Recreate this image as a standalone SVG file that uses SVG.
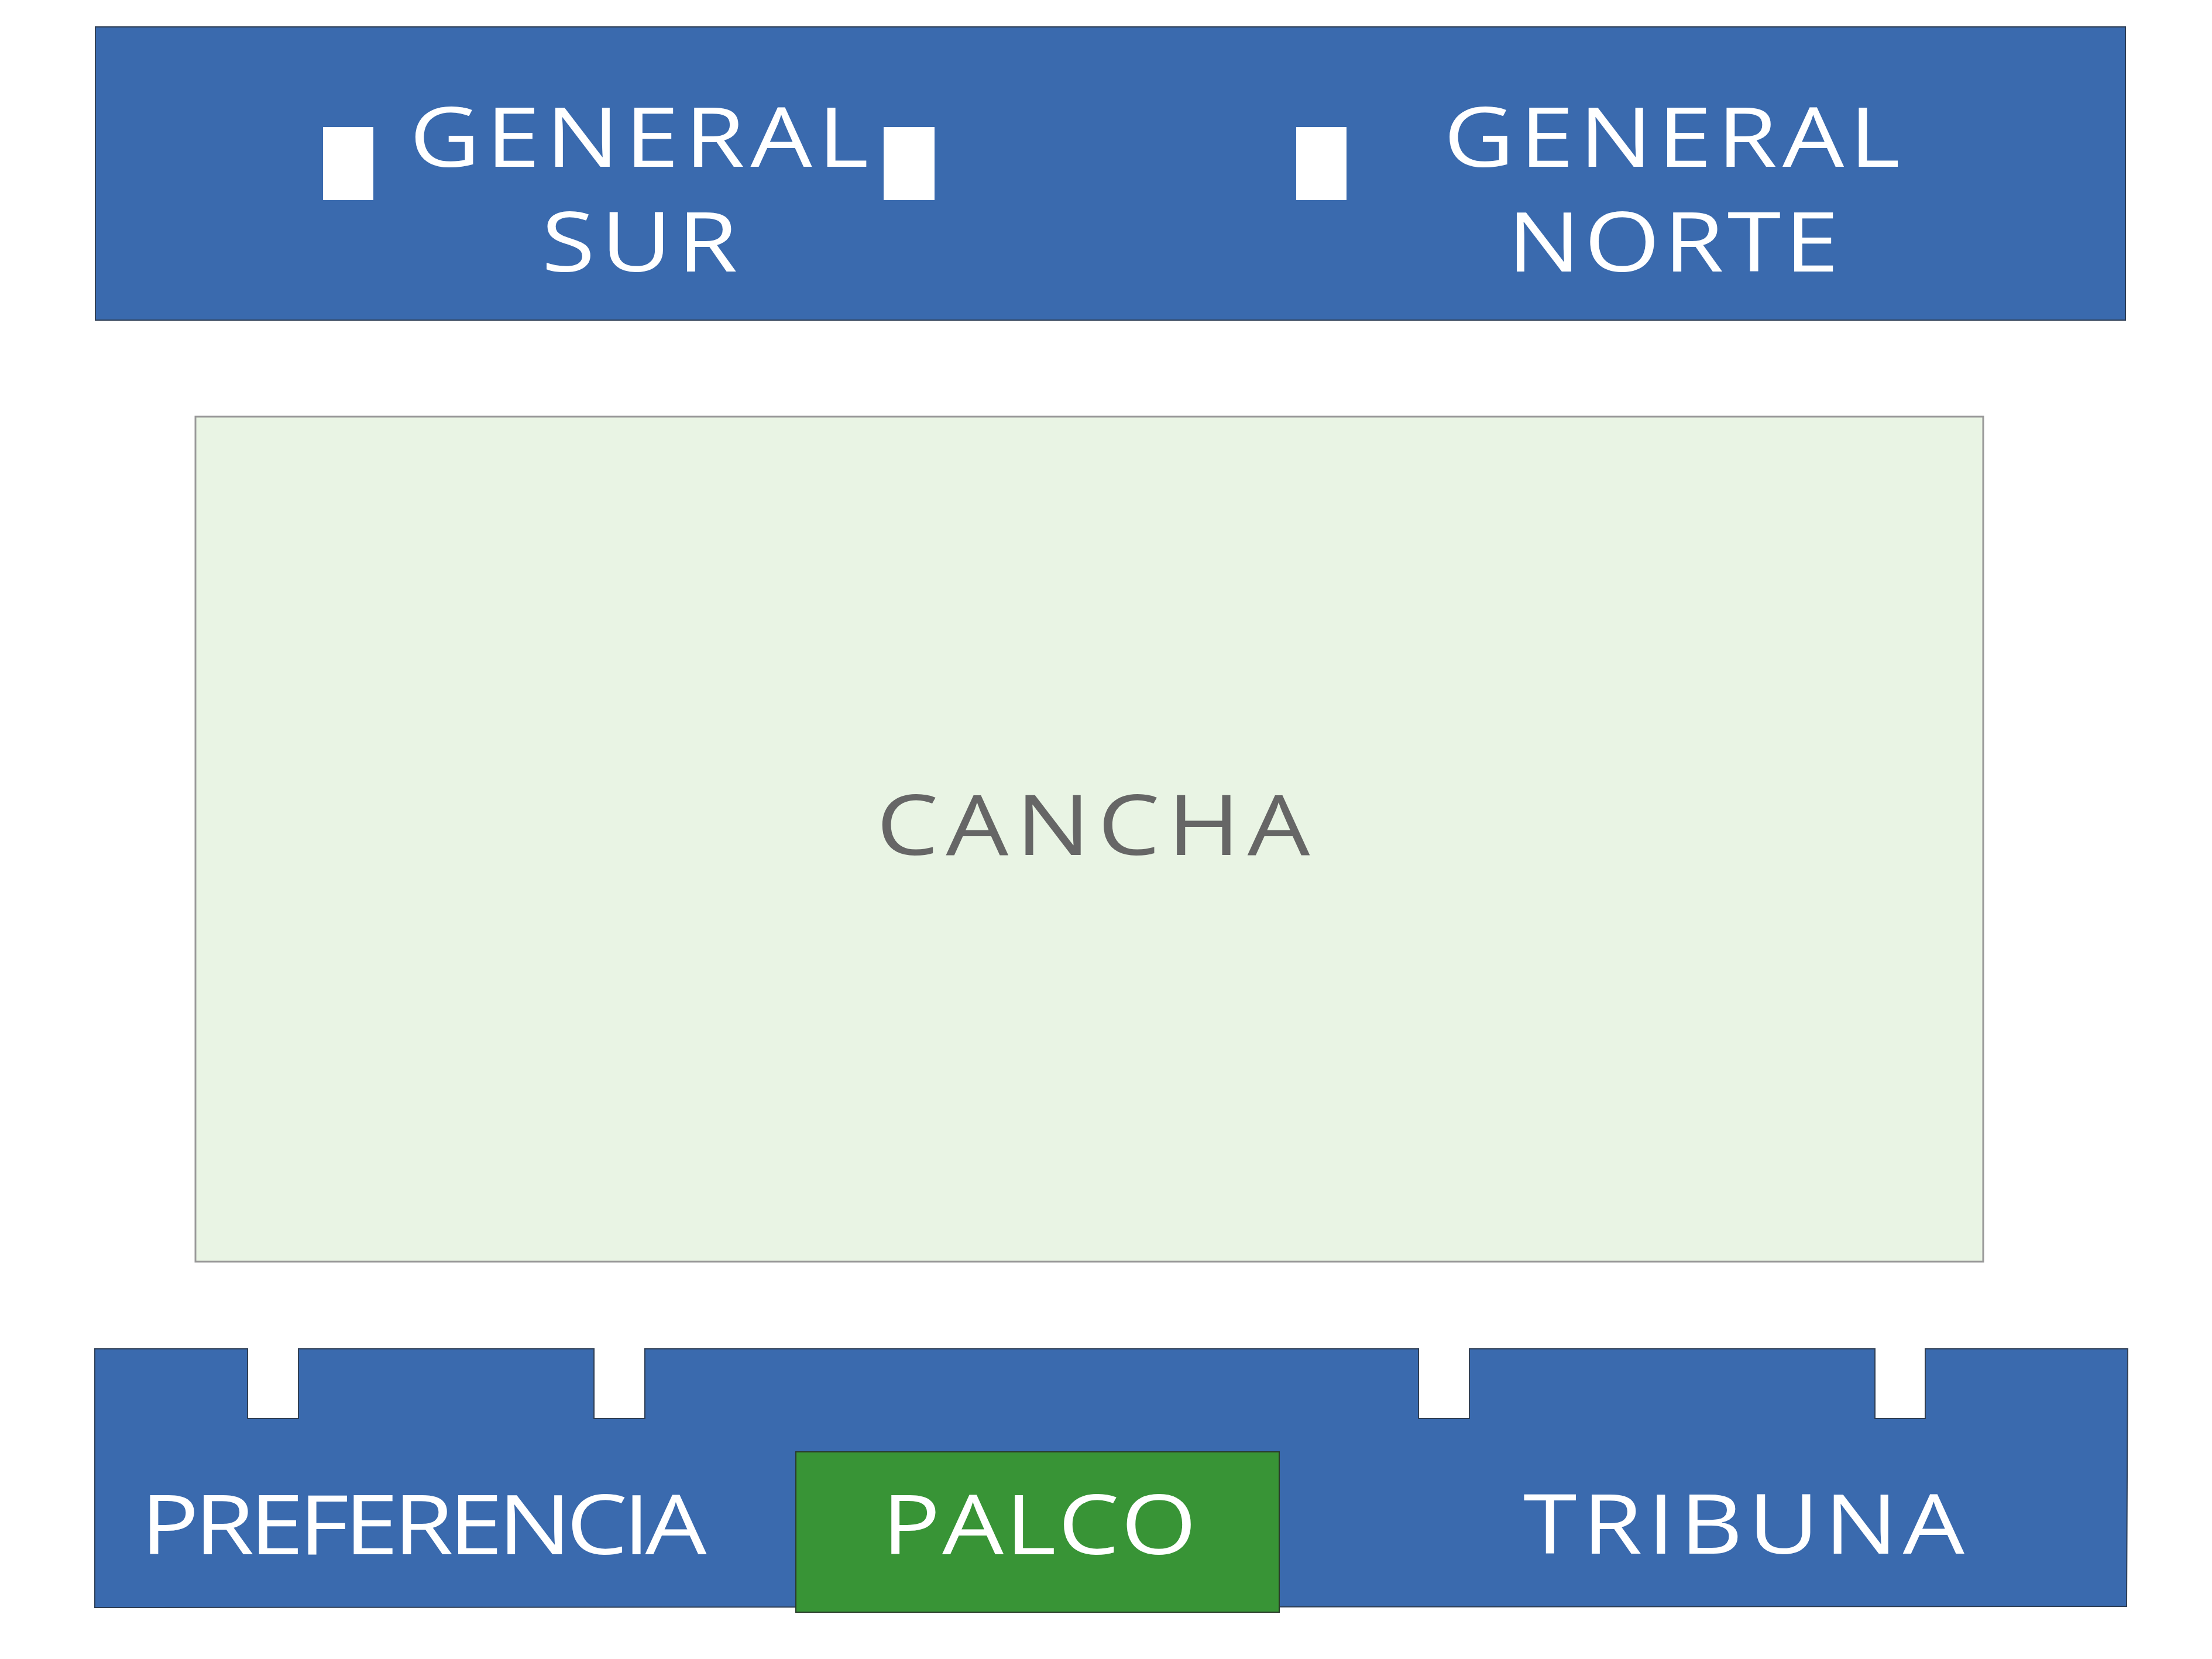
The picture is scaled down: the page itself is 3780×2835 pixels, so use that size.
<svg xmlns="http://www.w3.org/2000/svg" width="3780" height="2835" viewBox="0 0 3780 2835">
<style>
.band{fill:#3a6aae;stroke:#2f3f55;stroke-width:2}
.win{fill:#ffffff}
.lbl{font-family:"Open Sans","Noto Sans","Liberation Sans",sans-serif;font-size:141px;fill:#ffffff;text-anchor:middle}
.field{fill:#e9f4e4;stroke:#999999;stroke-width:3}
.palco{fill:#389436;stroke:#2a3a2a;stroke-width:2}
</style>
<rect width="3780" height="2835" fill="#ffffff"/>
<g id="general">
<rect class="band" x="163" y="46" width="3469" height="501"/>
<rect class="win" x="552" y="217" width="86" height="125"/>
<rect class="win" x="1510" y="217" width="87" height="125"/>
<rect class="win" x="2215" y="217" width="86" height="125"/>
<text class="lbl" transform="translate(1092 0) scale(1.18 1)" x="0" y="285" textLength="665" lengthAdjust="spacing">GENERAL</text>
<text class="lbl" transform="translate(1093 0) scale(1.18 1)" x="0" y="464" textLength="284" lengthAdjust="spacing">SUR</text>
<text class="lbl" transform="translate(2857 0) scale(1.18 1)" x="0" y="285" textLength="661" lengthAdjust="spacing">GENERAL</text>
<text class="lbl" transform="translate(2859 0) scale(1.18 1)" x="0" y="464" textLength="480" lengthAdjust="spacing">NORTE</text>
</g>
<g id="cancha">
<rect class="field" x="334" y="712" width="3055" height="1444"/>
<text class="lbl" transform="translate(1868 0) scale(1.18 1)" x="0" y="1461" textLength="628" lengthAdjust="spacing" style="fill:#666666;font-size:143px">CANCHA</text>
</g>
<g id="tribunas">
<path class="band" d="M162,2305 H423 V2424 H510 V2305 H1015 V2424 H1102 V2305 H2424 V2424 H2511 V2305 H3204 V2424 H3290 V2305 H3636 L3634,2745 L162,2747 Z"/>
<text class="lbl" transform="translate(724 0) scale(1.18 1)" x="0" y="2656" textLength="820" lengthAdjust="spacing">PREFERENCIA</text>
<text class="lbl" transform="translate(2980 0) scale(1.18 1)" x="0" y="2655" textLength="639" lengthAdjust="spacing">TRIBUNA</text>
</g>
<g id="palco">
<rect class="palco" x="1360" y="2481" width="826" height="274"/>
<text class="lbl" transform="translate(1776 0) scale(1.18 1)" x="0" y="2656" textLength="456" lengthAdjust="spacing">PALCO</text>
</g>
<g id="connectors"/>
</svg>
